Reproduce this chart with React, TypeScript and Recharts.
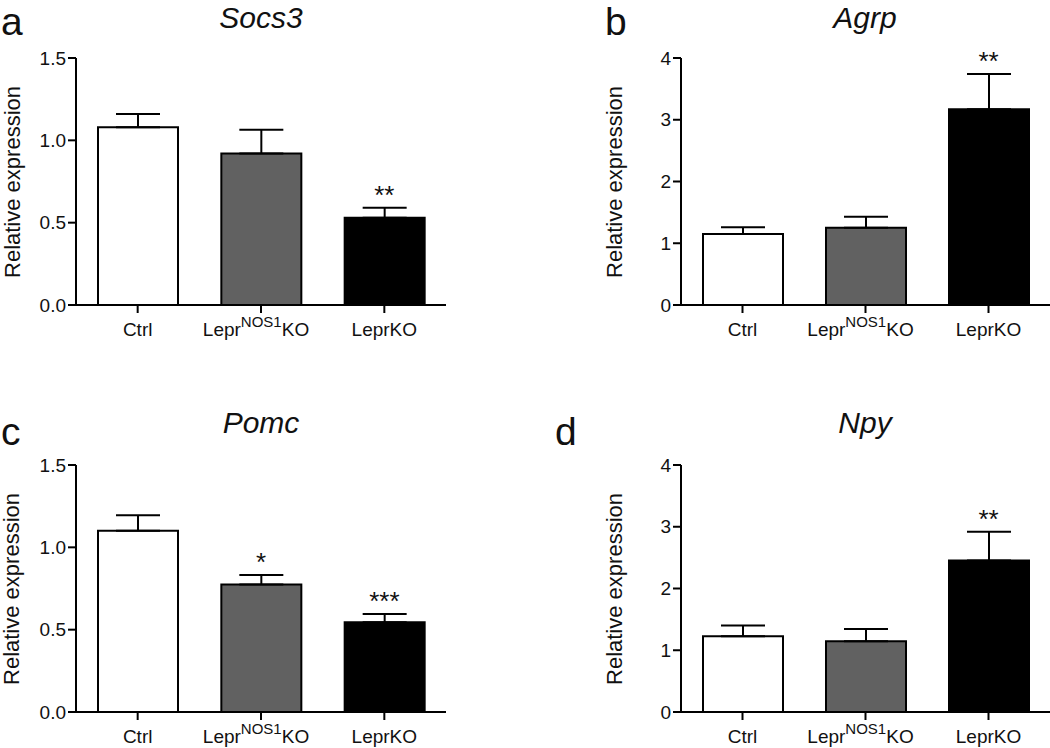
import React from 'react';
import { ComposedChart, Bar, Cell, XAxis, YAxis, ErrorBar, Line, LabelList } from 'recharts';

const categories = ['Ctrl', 'LeprNOS1KO', 'LeprKO'];
const barColors = ['#ffffff', '#616161', '#000000'];

const socs3Mean = [1.08, 0.92, 0.53];
const socs3Sem = [0.08, 0.145, 0.06];
const socs3Stars = ['', '', '**'];

const agrpMean = [1.15, 1.25, 3.17];
const agrpSem = [0.11, 0.18, 0.57];
const agrpStars = ['', '', '**'];

const pomcMean = [1.1, 0.775, 0.545];
const pomcSem = [0.095, 0.057, 0.05];
const pomcStars = ['', '*', '***'];

const npyMean = [1.225, 1.145, 2.455];
const npySem = [0.175, 0.2, 0.465];
const npyStars = ['', '', '**'];

const ticks15 = [0, 0.5, 1.0, 1.5];
const ticks4 = [0, 1, 2, 3, 4];

const FONT = '"Liberation Sans", Arial, sans-serif';

function buildData(mean: number[], sem: number[], stars: string[]) {
  return categories.map((c, i) => ({
    name: c,
    mean: mean[i],
    err: [0, sem[i]],
    top: mean[i] + sem[i],
    stars: stars[i],
  }));
}

const XTick = (props: any) => {
  const { x, y, payload } = props;
  const v = payload.value;
  if (v === 'LeprNOS1KO') {
    return (
      <text x={x - 5} y={y} dy={21} textAnchor="middle" fontSize={19} fill="#111" fontFamily={FONT}>
        <tspan>Lepr</tspan>
        <tspan dy={-9} fontSize={15}>NOS1</tspan>
        <tspan dy={9} fontSize={19}>KO</tspan>
      </text>
    );
  }
  return (
    <text x={x} y={y} dy={21} textAnchor="middle" fontSize={19} fill="#111" fontFamily={FONT}>
      {v}
    </text>
  );
};

const StarLabel = (props: any) => {
  const { x, y, value } = props;
  if (!value) return null;
  return (
    <text x={x} y={y - 4} textAnchor="middle" fontSize={26} fill="#111" fontFamily={FONT}>
      {value}
    </text>
  );
};

type PanelProps = {
  mean: number[];
  sem: number[];
  stars: string[];
  domainMax: number;
  ticks: number[];
  decimals: number;
  plotLeft: number;
  plotTop: number;
  plotRight: number;
  plotBottom: number;
};

const Panel = ({ mean, sem, stars, domainMax, ticks, decimals, plotLeft, plotTop, plotRight, plotBottom }: PanelProps) => {
  const data = buildData(mean, sem, stars);
  const yW = 70;
  const topM = 40;
  const xH = 50;
  const width = plotRight - plotLeft + yW;
  const height = plotBottom - plotTop + topM + xH;
  return (
    <div style={{ position: 'absolute', left: plotLeft - yW, top: plotTop - topM }}>
      <ComposedChart width={width} height={height} data={data} margin={{ top: topM, right: 0, bottom: 0, left: 0 }}>
        <XAxis
          dataKey="name"
          height={xH}
          axisLine={{ stroke: '#000', strokeWidth: 2 }}
          tickLine={{ stroke: '#000', strokeWidth: 2 }}
          tickSize={8}
          tickMargin={2}
          tick={<XTick />}
          interval={0}
        />
        <YAxis
          width={yW}
          domain={[0, domainMax]}
          ticks={ticks}
          allowDataOverflow
          axisLine={{ stroke: '#000', strokeWidth: 2 }}
          tickLine={{ stroke: '#000', strokeWidth: 2 }}
          tickSize={8}
          tickMargin={2}
          tick={{ fontSize: 19, fill: '#111', fontFamily: FONT }}
          tickFormatter={(v: number) => v.toFixed(decimals)}
        />
        <Bar dataKey="mean" barSize={80} stroke="#000" strokeWidth={2} isAnimationActive={false}>
          {data.map((d, i) => (
            <Cell key={d.name} fill={barColors[i]} />
          ))}
          <ErrorBar dataKey="err" width={22} stroke="#000" strokeWidth={2} direction="y" isAnimationActive={false} />
        </Bar>
        <Line dataKey="top" stroke="none" dot={false} activeDot={false} isAnimationActive={false} legendType="none">
          <LabelList dataKey="stars" content={<StarLabel />} />
        </Line>
      </ComposedChart>
    </div>
  );
};

const YLabel = ({ cx, cy }: { cx: number; cy: number }) => (
  <text
    transform={`translate(${cx}, ${cy}) rotate(-90)`}
    textAnchor="middle"
    dominantBaseline="central"
    fontSize={22}
    fill="#111"
    fontFamily={FONT}
  >
    Relative expression
  </text>
);

export default function App() {
  return (
    <div
      style={{
        position: 'absolute',
        left: 0,
        top: 0,
        width: 1050,
        height: 748,
        background: '#fff',
        overflow: 'hidden',
        fontFamily: FONT,
      }}
    >
      <Panel mean={socs3Mean} sem={socs3Sem} stars={socs3Stars} domainMax={1.5} ticks={ticks15} decimals={1}
        plotLeft={76} plotTop={58} plotRight={446} plotBottom={305} />
      <Panel mean={agrpMean} sem={agrpSem} stars={agrpStars} domainMax={4} ticks={ticks4} decimals={0}
        plotLeft={681} plotTop={58} plotRight={1050} plotBottom={305} />
      <Panel mean={pomcMean} sem={pomcSem} stars={pomcStars} domainMax={1.5} ticks={ticks15} decimals={1}
        plotLeft={76} plotTop={465} plotRight={446} plotBottom={712} />
      <Panel mean={npyMean} sem={npySem} stars={npyStars} domainMax={4} ticks={ticks4} decimals={0}
        plotLeft={681} plotTop={465} plotRight={1050} plotBottom={712} />
      <svg width={1050} height={748} style={{ position: 'absolute', left: 0, top: 0, pointerEvents: 'none' }}>
        <text x={1} y={35} fontSize={39} fill="#111" fontFamily={FONT}>a</text>
        <text x={605} y={35} fontSize={39} fill="#111" fontFamily={FONT}>b</text>
        <text x={1} y={445} fontSize={39} fill="#111" fontFamily={FONT}>c</text>
        <text x={555} y={445} fontSize={39} fill="#111" fontFamily={FONT}>d</text>
        <text x={261} y={28} fontSize={30} fontStyle="italic" textAnchor="middle" fill="#111" fontFamily={FONT}>Socs3</text>
        <text x={865} y={28} fontSize={30} fontStyle="italic" textAnchor="middle" fill="#111" fontFamily={FONT}>Agrp</text>
        <text x={261} y={433} fontSize={30} fontStyle="italic" textAnchor="middle" fill="#111" fontFamily={FONT}>Pomc</text>
        <text x={865} y={433} fontSize={30} fontStyle="italic" textAnchor="middle" fill="#111" fontFamily={FONT}>Npy</text>
        <YLabel cx={12} cy={182} />
        <YLabel cx={614} cy={182} />
        <YLabel cx={11} cy={589} />
        <YLabel cx={614} cy={589} />
      </svg>
    </div>
  );
}
